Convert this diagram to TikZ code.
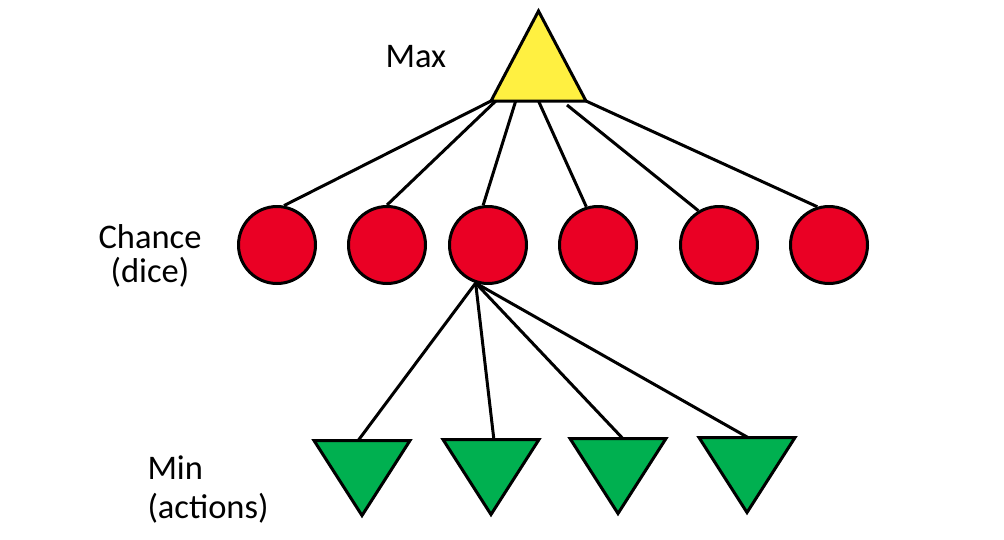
\documentclass[tikz,border=0pt]{standalone}
\usepackage{fontspec}
\setmainfont{Carlito}
\usepackage{xcolor}
\usepackage{tikz}
\usetikzlibrary{calc}
\usetikzlibrary{positioning}

\definecolor{maxyellow}{RGB}{255,240,65}
\definecolor{chancered}{RGB}{234,0,36}
\definecolor{mingreen}{RGB}{0,176,80}

\begin{document}
\begin{tikzpicture}[x=1pt, y=-1pt, line width=3pt,
  chance/.style={draw, circle, fill=chancered, minimum size=77pt, inner sep=0pt},
  tribox/.style={inner sep=0pt, outer sep=0pt},
  textlabel/.style={font=\fontsize{34.5}{34}\selectfont, inner sep=0pt}]

\useasboundingbox (0,0) rectangle (1004,539);

\node[tribox, minimum width=95pt, minimum height=90pt] (max) at (538.5,56) {};

\node[chance] (c1) at (277,245) {};
\node[chance] (c2) at (387,245) {};
\node[chance] (c3) at (488,245) {};
\node[chance] (c4) at (598,245) {};
\node[chance] (c5) at (719,245) {};
\node[chance] (c6) at (829,245) {};

\node[tribox, minimum width=96pt, minimum height=75pt] (m1) at (362,478) {};
\node[tribox, minimum width=96pt, minimum height=75pt] (m2) at (491,477) {};
\node[tribox, minimum width=96pt, minimum height=75pt] (m3) at (618,476) {};
\node[tribox, minimum width=96pt, minimum height=75pt] (m4) at (747,475) {};

\path[draw] ($(max.south west)!0!(max.south east)$) -- (c1.80);
\path[draw] ($(max.south west)!.05!(max.south east)$) -- (c2.north);
\path[draw] ($(max.south west)!.26!(max.south east)$) -- (c3.97);
\path[draw] ($(max.south west)!.5!(max.south east)$) -- (c4.107);
\path[draw] ($(max.south west)!.8!(max.south east)+(0,4)$) -- (c5.121);
\path[draw] ($(max.south west)!1!(max.south east)$) -- (c6.107);

\path[draw] (c3.252) -- ($(m1.north west)!.46!(m1.north east)$);
\path[draw] (c3.252) -- ($(m2.north west)!.53!(m2.north east)$);
\path[draw] (c3.252) -- ($(m3.north west)!.55!(m3.north east)$);
\path[draw] (c3.252) -- ($(m4.north west)!.51!(m4.north east)$);

\path[draw, fill=maxyellow] (max.north) -- (max.south west) -- (max.south east) -- cycle;
\path[draw, fill=mingreen] (m1.north west) -- (m1.north east) -- (m1.south) -- cycle;
\path[draw, fill=mingreen] (m2.north west) -- (m2.north east) -- (m2.south) -- cycle;
\path[draw, fill=mingreen] (m3.north west) -- (m3.north east) -- (m3.south) -- cycle;
\path[draw, fill=mingreen] (m4.north west) -- (m4.north east) -- (m4.south) -- cycle;

\node[textlabel, anchor=base west] (maxlabel) at (384,67) {Max};
\node[textlabel, align=center, anchor=base] (chancelabel) at (150,282) {Chance\\(dice)};
\node[textlabel, align=left, anchor=base west] (minlabel) at (146,518) {Min\\[5pt](actions)};

\end{tikzpicture}
\end{document}
